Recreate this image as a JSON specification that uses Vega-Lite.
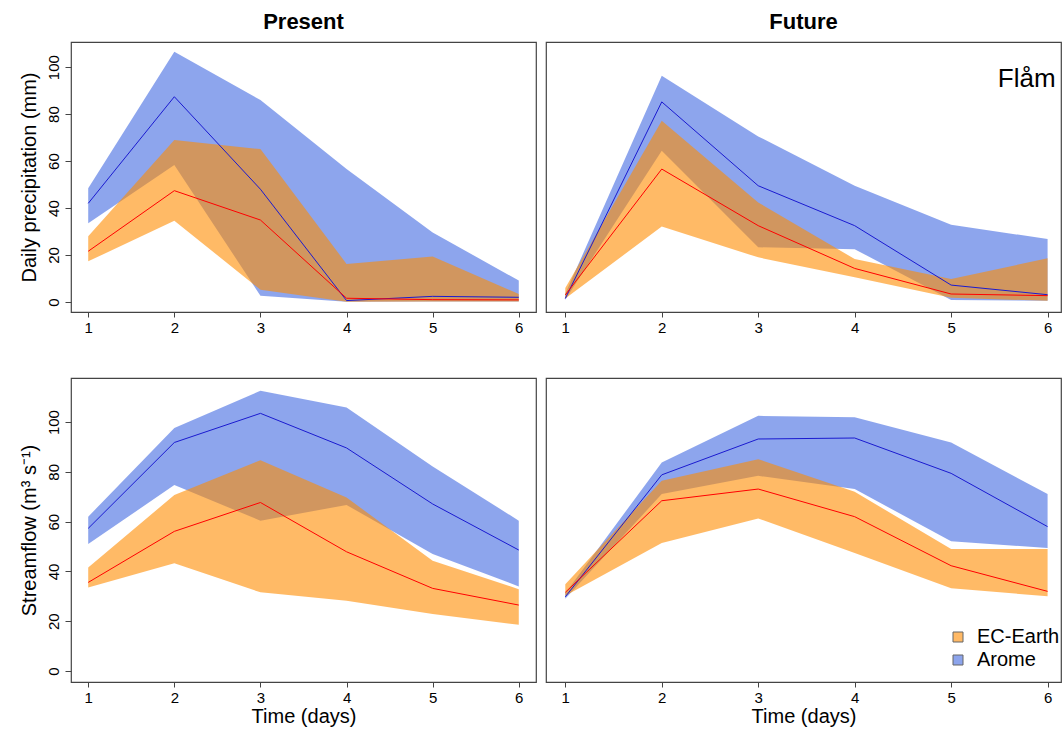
{
  "$schema": "https://vega.github.io/schema/vega-lite/v6.json",
  "padding": {"left": 18, "top": 10, "right": 0, "bottom": 0},
  "background": "white",
  "config": {
    "font": "Liberation Sans",
    "view": {"stroke": "#444", "strokeWidth": 1.2},
    "title": {"fontSize": 22, "fontWeight": "bold", "font": "Liberation Sans", "anchor": "middle", "offset": 8, "color": "#000"},
    "axis": {"domain": false, "grid": false, "tickColor": "#444", "labelFont": "Liberation Sans", "labelFontSize": 15, "labelColor": "#000", "titleFont": "Liberation Sans", "titleFontSize": 20, "titleFontWeight": "normal", "titleColor": "#000"},
    "axisX": {"tickSize": 5, "labelPadding": 3, "titlePadding": 1},
    "axisY": {"tickSize": 6, "labelAngle": -90, "labelPadding": 4, "titlePadding": 7},
    "legend": {"orient": "none", "legendX": 877, "legendY": 585, "symbolType": "square", "symbolSize": 100, "symbolStrokeColor": "#000", "symbolStrokeWidth": 1, "symbolOpacity": 0.6, "labelFont": "Liberation Sans", "labelFontSize": 20, "labelColor": "#000", "rowPadding": 3, "labelOffset": 9}
  },
  "datasets": {
    "d": [
      {"panel": "PP", "model": "Arome", "day": 1, "lo": 33.5, "med": 42, "hi": 48.4},
      {"panel": "PP", "model": "Arome", "day": 2, "lo": 58.3, "med": 87.4, "hi": 106.5},
      {"panel": "PP", "model": "Arome", "day": 3, "lo": 2.7, "med": 48, "hi": 86},
      {"panel": "PP", "model": "Arome", "day": 4, "lo": 0.1, "med": 0.6, "hi": 56.6},
      {"panel": "PP", "model": "Arome", "day": 5, "lo": 0.2, "med": 2.4, "hi": 29.6},
      {"panel": "PP", "model": "Arome", "day": 6, "lo": 0.2, "med": 2.0, "hi": 9.1},
      {"panel": "PP", "model": "EC-Earth", "day": 1, "lo": 17.3, "med": 21.6, "hi": 28},
      {"panel": "PP", "model": "EC-Earth", "day": 2, "lo": 34.6, "med": 47.4, "hi": 69},
      {"panel": "PP", "model": "EC-Earth", "day": 3, "lo": 5.2, "med": 34.9, "hi": 65.1},
      {"panel": "PP", "model": "EC-Earth", "day": 4, "lo": 0.1, "med": 1.6, "hi": 16.2},
      {"panel": "PP", "model": "EC-Earth", "day": 5, "lo": 0.2, "med": 1.0, "hi": 19.4},
      {"panel": "PP", "model": "EC-Earth", "day": 6, "lo": 0.2, "med": 0.9, "hi": 3.4},
      {"panel": "FP", "model": "Arome", "day": 1, "lo": 1.0, "med": 1.5, "hi": 3.5},
      {"panel": "FP", "model": "Arome", "day": 2, "lo": 64.4, "med": 85.2, "hi": 96.3},
      {"panel": "FP", "model": "Arome", "day": 3, "lo": 23.3, "med": 49.5, "hi": 70.5},
      {"panel": "FP", "model": "Arome", "day": 4, "lo": 22.5, "med": 32.5, "hi": 49.5},
      {"panel": "FP", "model": "Arome", "day": 5, "lo": 0.8, "med": 7.2, "hi": 32.9},
      {"panel": "FP", "model": "Arome", "day": 6, "lo": 0.5, "med": 3.1, "hi": 26.8},
      {"panel": "FP", "model": "EC-Earth", "day": 1, "lo": 1.5, "med": 3, "hi": 6},
      {"panel": "FP", "model": "EC-Earth", "day": 2, "lo": 32.1, "med": 56.6, "hi": 77.2},
      {"panel": "FP", "model": "EC-Earth", "day": 3, "lo": 19.0, "med": 32.5, "hi": 42.4},
      {"panel": "FP", "model": "EC-Earth", "day": 4, "lo": 10.5, "med": 14.3, "hi": 18.3},
      {"panel": "FP", "model": "EC-Earth", "day": 5, "lo": 1.8, "med": 3.4, "hi": 9.8},
      {"panel": "FP", "model": "EC-Earth", "day": 6, "lo": 0.5, "med": 2.7, "hi": 18.6},
      {"panel": "PS", "model": "Arome", "day": 1, "lo": 51, "med": 57.3, "hi": 62},
      {"panel": "PS", "model": "Arome", "day": 2, "lo": 74.7, "med": 91.8, "hi": 97.6},
      {"panel": "PS", "model": "Arome", "day": 3, "lo": 60.4, "med": 103.5, "hi": 112.6},
      {"panel": "PS", "model": "Arome", "day": 4, "lo": 66.7, "med": 89.6, "hi": 105.9},
      {"panel": "PS", "model": "Arome", "day": 5, "lo": 47, "med": 67.1, "hi": 82.2},
      {"panel": "PS", "model": "Arome", "day": 6, "lo": 34, "med": 48.6, "hi": 60.4},
      {"panel": "PS", "model": "EC-Earth", "day": 1, "lo": 33.6, "med": 35.6, "hi": 41.6},
      {"panel": "PS", "model": "EC-Earth", "day": 2, "lo": 43.3, "med": 56.1, "hi": 70.7},
      {"panel": "PS", "model": "EC-Earth", "day": 3, "lo": 31.6, "med": 67.7, "hi": 84.7},
      {"panel": "PS", "model": "EC-Earth", "day": 4, "lo": 28.2, "med": 47.9, "hi": 69.7},
      {"panel": "PS", "model": "EC-Earth", "day": 5, "lo": 22.9, "med": 33.2, "hi": 44.3},
      {"panel": "PS", "model": "EC-Earth", "day": 6, "lo": 18.6, "med": 26.5, "hi": 32.9},
      {"panel": "FS", "model": "Arome", "day": 1, "lo": 29.0, "med": 29.8, "hi": 31.2},
      {"panel": "FS", "model": "Arome", "day": 2, "lo": 71.1, "med": 78.8, "hi": 83.8},
      {"panel": "FS", "model": "Arome", "day": 3, "lo": 78.4, "med": 93.2, "hi": 102.5},
      {"panel": "FS", "model": "Arome", "day": 4, "lo": 73.1, "med": 93.6, "hi": 101.9},
      {"panel": "FS", "model": "Arome", "day": 5, "lo": 52.1, "med": 79.4, "hi": 91.8},
      {"panel": "FS", "model": "Arome", "day": 6, "lo": 49.4, "med": 58, "hi": 71.1},
      {"panel": "FS", "model": "EC-Earth", "day": 1, "lo": 30.2, "med": 31.6, "hi": 34.9},
      {"panel": "FS", "model": "EC-Earth", "day": 2, "lo": 51.4, "med": 68.4, "hi": 76.4},
      {"panel": "FS", "model": "EC-Earth", "day": 3, "lo": 61.3, "med": 73.1, "hi": 85.1},
      {"panel": "FS", "model": "EC-Earth", "day": 4, "lo": 47.4, "med": 62, "hi": 72},
      {"panel": "FS", "model": "EC-Earth", "day": 5, "lo": 33.3, "med": 42.3, "hi": 49},
      {"panel": "FS", "model": "EC-Earth", "day": 6, "lo": 30, "med": 32, "hi": 49}
    ]
  },
  "data": {"name": "d"},
  "columns": 2,
  "spacing": {"row": 66, "column": 10},
  "bounds": "flush",
  "align": "each",
  "concat": [
    {
      "title": "Present",
      "width": 465, "height": 270,
      "transform": [{"filter": "datum.panel === 'PP'"}],
      "encoding": {"x": {"field": "day", "type": "quantitative", "title": null, "scale": {"domain": [0.8, 6.2], "nice": false, "zero": false}, "axis": {"values": [1, 2, 3, 4, 5, 6], "format": "d"}}},
      "layer": [
        {"transform": [{"filter": "datum.model === 'Arome'"}], "mark": {"type": "area", "opacity": 0.6}, "encoding": {"y": {"field": "lo", "type": "quantitative", "title": "Daily precipitation (mm)", "scale": {"domain": [-4.26, 110.7], "nice": false, "zero": false}, "axis": {"values": [0, 20, 40, 60, 80, 100]}}, "y2": {"field": "hi"}, "color": {"field": "model", "type": "nominal", "title": null, "scale": {"domain": ["EC-Earth", "Arome"], "range": ["#ff8c00", "#4169e1"]}}}},
        {"transform": [{"filter": "datum.model === 'EC-Earth'"}], "mark": {"type": "area", "opacity": 0.6}, "encoding": {"y": {"field": "lo", "type": "quantitative", "title": "Daily precipitation (mm)"}, "y2": {"field": "hi"}, "color": {"field": "model", "type": "nominal", "title": null}}},
        {"transform": [{"filter": "datum.model === 'Arome'"}], "mark": {"type": "line", "color": "#1a1ad0", "strokeWidth": 1}, "encoding": {"y": {"field": "med", "type": "quantitative", "title": "Daily precipitation (mm)"}}},
        {"transform": [{"filter": "datum.model === 'EC-Earth'"}], "mark": {"type": "line", "color": "#ff0000", "strokeWidth": 1}, "encoding": {"y": {"field": "med", "type": "quantitative", "title": "Daily precipitation (mm)"}}}
      ]
    },
    {
      "title": "Future",
      "width": 515, "height": 270,
      "transform": [{"filter": "datum.panel === 'FP'"}],
      "encoding": {"x": {"field": "day", "type": "quantitative", "title": null, "scale": {"domain": [0.8, 6.139], "nice": false, "zero": false}, "axis": {"values": [1, 2, 3, 4, 5, 6], "format": "d"}}},
      "layer": [
        {"transform": [{"filter": "datum.model === 'Arome'"}], "mark": {"type": "area", "opacity": 0.6}, "encoding": {"y": {"field": "lo", "type": "quantitative", "scale": {"domain": [-4.26, 110.7], "nice": false, "zero": false}, "axis": null}, "y2": {"field": "hi"}, "color": {"field": "model", "type": "nominal", "title": null}}},
        {"transform": [{"filter": "datum.model === 'EC-Earth'"}], "mark": {"type": "area", "opacity": 0.6}, "encoding": {"y": {"field": "lo", "type": "quantitative", "axis": null}, "y2": {"field": "hi"}, "color": {"field": "model", "type": "nominal", "title": null}}},
        {"transform": [{"filter": "datum.model === 'Arome'"}], "mark": {"type": "line", "color": "#1a1ad0", "strokeWidth": 1}, "encoding": {"y": {"field": "med", "type": "quantitative", "axis": null}}},
        {"transform": [{"filter": "datum.model === 'EC-Earth'"}], "mark": {"type": "line", "color": "#ff0000", "strokeWidth": 1}, "encoding": {"y": {"field": "med", "type": "quantitative", "axis": null}}},
        {"transform": [{"filter": "datum.model === 'Arome' && datum.day === 6"}], "mark": {"type": "text", "align": "right", "baseline": "alphabetic", "fontSize": 26, "font": "Liberation Sans", "fill": "#000", "text": "Flåm"}, "encoding": {"x": {"datum": 6.083, "type": "quantitative"}, "y": {"datum": 91.5, "type": "quantitative"}}}
      ]
    },
    {
      "width": 465, "height": 304,
      "transform": [{"filter": "datum.panel === 'PS'"}],
      "encoding": {"x": {"field": "day", "type": "quantitative", "title": "Time (days)", "scale": {"domain": [0.8, 6.2], "nice": false, "zero": false}, "axis": {"values": [1, 2, 3, 4, 5, 6], "format": "d"}}},
      "layer": [
        {"transform": [{"filter": "datum.model === 'Arome'"}], "mark": {"type": "area", "opacity": 0.6}, "encoding": {"y": {"field": "lo", "type": "quantitative", "title": "Streamflow (m³ s⁻¹)", "scale": {"domain": [-4.4, 117.7], "nice": false, "zero": false}, "axis": {"values": [0, 20, 40, 60, 80, 100]}}, "y2": {"field": "hi"}, "color": {"field": "model", "type": "nominal", "title": null}}},
        {"transform": [{"filter": "datum.model === 'EC-Earth'"}], "mark": {"type": "area", "opacity": 0.6}, "encoding": {"y": {"field": "lo", "type": "quantitative", "title": "Streamflow (m³ s⁻¹)"}, "y2": {"field": "hi"}, "color": {"field": "model", "type": "nominal", "title": null}}},
        {"transform": [{"filter": "datum.model === 'Arome'"}], "mark": {"type": "line", "color": "#1a1ad0", "strokeWidth": 1}, "encoding": {"y": {"field": "med", "type": "quantitative", "title": "Streamflow (m³ s⁻¹)"}}},
        {"transform": [{"filter": "datum.model === 'EC-Earth'"}], "mark": {"type": "line", "color": "#ff0000", "strokeWidth": 1}, "encoding": {"y": {"field": "med", "type": "quantitative", "title": "Streamflow (m³ s⁻¹)"}}}
      ]
    },
    {
      "width": 515, "height": 304,
      "transform": [{"filter": "datum.panel === 'FS'"}],
      "encoding": {"x": {"field": "day", "type": "quantitative", "title": "Time (days)", "scale": {"domain": [0.8, 6.139], "nice": false, "zero": false}, "axis": {"values": [1, 2, 3, 4, 5, 6], "format": "d"}}},
      "layer": [
        {"transform": [{"filter": "datum.model === 'Arome'"}], "mark": {"type": "area", "opacity": 0.6}, "encoding": {"y": {"field": "lo", "type": "quantitative", "scale": {"domain": [-4.4, 117.7], "nice": false, "zero": false}, "axis": null}, "y2": {"field": "hi"}, "color": {"field": "model", "type": "nominal", "title": null}}},
        {"transform": [{"filter": "datum.model === 'EC-Earth'"}], "mark": {"type": "area", "opacity": 0.6}, "encoding": {"y": {"field": "lo", "type": "quantitative", "axis": null}, "y2": {"field": "hi"}, "color": {"field": "model", "type": "nominal", "title": null}}},
        {"transform": [{"filter": "datum.model === 'Arome'"}], "mark": {"type": "line", "color": "#1a1ad0", "strokeWidth": 1}, "encoding": {"y": {"field": "med", "type": "quantitative", "axis": null}}},
        {"transform": [{"filter": "datum.model === 'EC-Earth'"}], "mark": {"type": "line", "color": "#ff0000", "strokeWidth": 1}, "encoding": {"y": {"field": "med", "type": "quantitative", "axis": null}}}
      ]
    }
  ]
}
